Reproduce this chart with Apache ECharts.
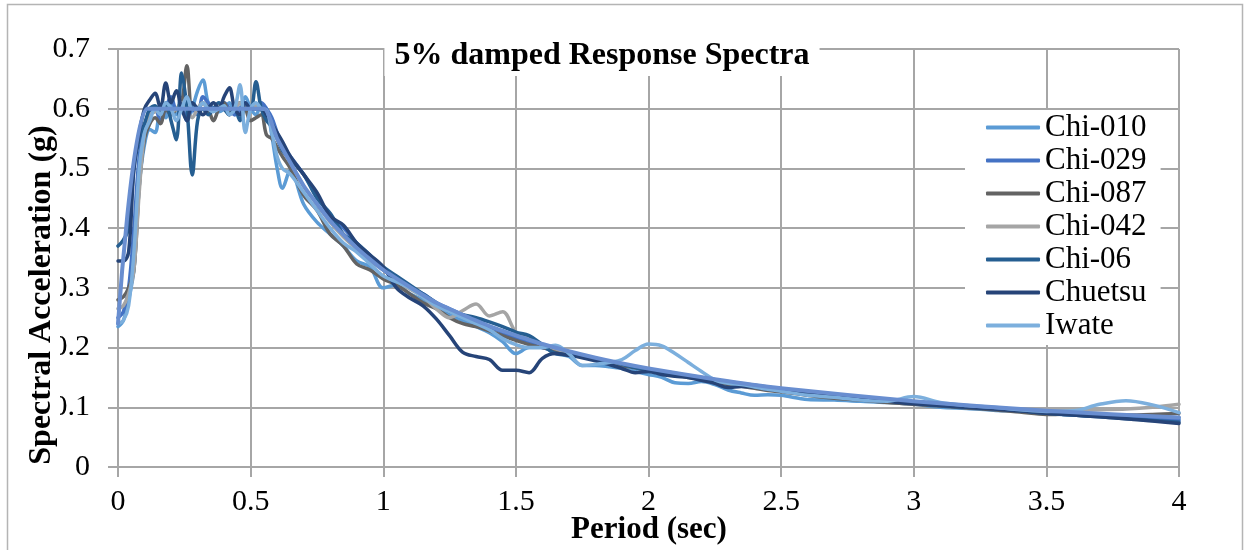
<!DOCTYPE html>
<html>
<head>
<meta charset="utf-8">
<title>5% damped Response Spectra</title>
<script src="https://cdn.jsdelivr.net/npm/echarts@6/dist/echarts.min.js"></script>
<style>
  html, body { margin: 0; padding: 0; background: #fff; }
  #chart { width: 1250px; height: 550px; }
</style>
</head>
<body>
<div id="chart"></div>
<script>
// Periods (sec) shared by all ground-motion records
const periods = [
  0, 0.02, 0.04, 0.06, 0.08, 0.10, 0.12, 0.14, 0.16, 0.18, 0.20, 0.22, 0.24, 0.26, 0.28, 0.30,
  0.32, 0.34, 0.36, 0.38, 0.40, 0.42, 0.44, 0.46, 0.48, 0.50, 0.52, 0.54, 0.56, 0.58, 0.60, 0.62,
  0.65, 0.70, 0.75, 0.80, 0.85, 0.90, 0.95, 1.00, 1.05, 1.10, 1.15, 1.20, 1.25, 1.30, 1.35, 1.40,
  1.45, 1.50, 1.55, 1.60, 1.65, 1.70, 1.75, 1.80, 1.85, 1.90, 1.95, 2.00, 2.05, 2.10, 2.15, 2.20,
  2.25, 2.30, 2.35, 2.40, 2.45, 2.50,
  2.6, 2.7, 2.8, 2.9, 3.0, 3.1, 3.2, 3.3, 3.4, 3.5, 3.6, 3.7, 3.8, 3.9, 4.0
];

// Spectral acceleration (g) of each record
const chi010 = [
  0.235, 0.245, 0.28, 0.33, 0.47, 0.54, 0.565, 0.56, 0.60, 0.585, 0.61, 0.59, 0.60, 0.58, 0.60, 0.63,
  0.648, 0.61, 0.60, 0.595, 0.60, 0.61, 0.59, 0.60, 0.62, 0.60, 0.59, 0.605, 0.60, 0.555, 0.50, 0.467,
  0.497, 0.44, 0.41, 0.39, 0.37, 0.345, 0.335, 0.30, 0.305, 0.29, 0.28, 0.27, 0.255, 0.245, 0.235, 0.225,
  0.21, 0.19, 0.20, 0.20, 0.19, 0.185, 0.17, 0.17, 0.168, 0.165, 0.16, 0.155, 0.15, 0.141, 0.14, 0.143,
  0.138, 0.129, 0.124, 0.12, 0.121, 0.12,
  0.113, 0.112, 0.11, 0.108, 0.105, 0.10, 0.098, 0.095, 0.093, 0.09, 0.087, 0.085, 0.084, 0.083, 0.08
];
const chi029 = [
  0.25, 0.26, 0.30, 0.40, 0.52, 0.57, 0.59, 0.60, 0.58, 0.60, 0.62, 0.60, 0.60, 0.58, 0.60, 0.59,
  0.62, 0.61, 0.60, 0.60, 0.61, 0.60, 0.59, 0.60, 0.61, 0.60, 0.60, 0.61, 0.60, 0.585, 0.56, 0.535,
  0.52, 0.49, 0.455, 0.42, 0.40, 0.375, 0.35, 0.33, 0.315, 0.30, 0.29, 0.275, 0.265, 0.255, 0.245, 0.235,
  0.225, 0.215, 0.21, 0.20, 0.195, 0.19, 0.185, 0.18, 0.175, 0.172, 0.168, 0.163, 0.158, 0.155, 0.151, 0.148,
  0.145, 0.142, 0.139, 0.136, 0.133, 0.13,
  0.125, 0.12, 0.116, 0.112, 0.108, 0.104, 0.101, 0.098, 0.095, 0.092, 0.089, 0.087, 0.084, 0.081, 0.078
];
const chi087 = [
  0.28, 0.285, 0.30, 0.33, 0.47, 0.55, 0.575, 0.585, 0.575, 0.60, 0.59, 0.60, 0.61, 0.672, 0.60, 0.60,
  0.61, 0.60, 0.58, 0.60, 0.61, 0.59, 0.605, 0.61, 0.60, 0.58, 0.585, 0.59, 0.556, 0.55, 0.535, 0.52,
  0.50, 0.455, 0.43, 0.39, 0.37, 0.34, 0.33, 0.315, 0.305, 0.29, 0.275, 0.265, 0.25, 0.24, 0.235, 0.228,
  0.22, 0.212, 0.205, 0.20, 0.195, 0.19, 0.185, 0.18, 0.176, 0.17, 0.166, 0.162, 0.158, 0.155, 0.15, 0.147,
  0.144, 0.138, 0.135, 0.132, 0.128, 0.126,
  0.12, 0.115, 0.112, 0.108, 0.105, 0.102, 0.099, 0.096, 0.092, 0.088, 0.089, 0.088, 0.087, 0.088, 0.09
];
const chi042 = [
  0.265, 0.27, 0.29, 0.33, 0.46, 0.56, 0.59, 0.595, 0.60, 0.605, 0.595, 0.60, 0.61, 0.60, 0.585, 0.60,
  0.61, 0.60, 0.60, 0.605, 0.60, 0.60, 0.60, 0.61, 0.60, 0.60, 0.605, 0.60, 0.59, 0.57, 0.55, 0.53,
  0.51, 0.47, 0.44, 0.41, 0.385, 0.365, 0.345, 0.33, 0.312, 0.298, 0.285, 0.265, 0.25, 0.262, 0.273, 0.253,
  0.26, 0.226, 0.215, 0.205, 0.198, 0.192, 0.187, 0.182, 0.177, 0.172, 0.168, 0.164, 0.16, 0.157, 0.153, 0.15,
  0.146, 0.143, 0.14, 0.137, 0.134, 0.131,
  0.126, 0.121, 0.116, 0.112, 0.108, 0.104, 0.101, 0.098, 0.096, 0.095, 0.095, 0.096, 0.097, 0.10, 0.105
];
const chi06 = [
  0.37, 0.38, 0.40, 0.50, 0.55, 0.575, 0.60, 0.605, 0.59, 0.61, 0.58, 0.548, 0.66, 0.60, 0.489, 0.58,
  0.60, 0.59, 0.60, 0.61, 0.60, 0.59, 0.60, 0.58, 0.60, 0.60, 0.645, 0.60, 0.58, 0.57, 0.55, 0.53,
  0.515, 0.49, 0.45, 0.425, 0.39, 0.375, 0.355, 0.335, 0.32, 0.305, 0.29, 0.275, 0.26, 0.255, 0.25, 0.243,
  0.235, 0.226, 0.22, 0.205, 0.19, 0.188, 0.185, 0.18, 0.177, 0.172, 0.166, 0.162, 0.158, 0.155, 0.152, 0.148,
  0.145, 0.141, 0.138, 0.137, 0.132, 0.129,
  0.124, 0.119, 0.115, 0.111, 0.107, 0.103, 0.10, 0.098, 0.094, 0.09, 0.087, 0.084, 0.081, 0.078, 0.075
];
const chuetsu = [
  0.345, 0.345, 0.36, 0.50, 0.56, 0.60, 0.615, 0.626, 0.60, 0.643, 0.61, 0.63, 0.60, 0.58, 0.61, 0.60,
  0.59, 0.60, 0.61, 0.60, 0.62, 0.635, 0.60, 0.59, 0.61, 0.60, 0.60, 0.60, 0.59, 0.575, 0.56, 0.545,
  0.52, 0.49, 0.46, 0.42, 0.405, 0.375, 0.355, 0.335, 0.30, 0.283, 0.27, 0.248, 0.22, 0.192, 0.185, 0.18,
  0.162, 0.162, 0.158, 0.182, 0.19, 0.187, 0.183, 0.178, 0.172, 0.165, 0.158, 0.16, 0.155, 0.152, 0.15, 0.145,
  0.14, 0.133, 0.135, 0.134, 0.13, 0.128,
  0.124, 0.119, 0.114, 0.11, 0.106, 0.103, 0.10, 0.097, 0.094, 0.09, 0.087, 0.084, 0.081, 0.077, 0.073
];
const iwate = [
  0.24, 0.245, 0.27, 0.36, 0.50, 0.56, 0.58, 0.60, 0.59, 0.61, 0.60, 0.58, 0.60, 0.62, 0.60, 0.60,
  0.61, 0.60, 0.595, 0.60, 0.605, 0.59, 0.60, 0.64, 0.56, 0.60, 0.61, 0.60, 0.598, 0.56, 0.52, 0.50,
  0.49, 0.46, 0.43, 0.40, 0.375, 0.36, 0.34, 0.32, 0.31, 0.30, 0.285, 0.27, 0.26, 0.25, 0.24, 0.23,
  0.215, 0.205, 0.20, 0.20, 0.204, 0.19, 0.17, 0.172, 0.175, 0.18, 0.195, 0.206, 0.203, 0.19, 0.175, 0.16,
  0.146, 0.14, 0.138, 0.134, 0.13, 0.127,
  0.12, 0.117, 0.112, 0.11, 0.118, 0.108, 0.103, 0.10, 0.096, 0.093, 0.094, 0.105, 0.111, 0.104, 0.091
];

// Design (target) spectrum
const targetPeriods = [0, 0.11, 0.55, 0.6, 0.7, 0.8, 0.9, 1.0, 1.2, 1.4, 1.6, 1.8, 2.0, 2.25, 2.5, 3.0, 3.5, 4.0];
const targetValues  = [0.24, 0.6, 0.6, 0.55, 0.471, 0.412, 0.367, 0.33, 0.275, 0.236, 0.206, 0.183, 0.165, 0.147, 0.132, 0.11, 0.094, 0.083];

const recordNames = ['Chi-010', 'Chi-029', 'Chi-087', 'Chi-042', 'Chi-06', 'Chuetsu', 'Iwate'];
const recordValues = [chi010, chi029, chi087, chi042, chi06, chuetsu, iwate];

// Line colours, one per record, then the target
const recordColors = ['#5B9BD5', '#4472C4', '#636363', '#A5A5A5', '#255E91', '#264478', '#7CAFDD'];
const targetColor = '#698ED0';

const serif = '"Liberation Serif", "Times New Roman", serif';
const gridGray = '#a6a6a6';

const series = recordNames.map((name, k) => ({
  name: name,
  type: 'line',
  data: periods.map((t, i) => [t, recordValues[k][i]]),
  symbol: 'none',
  smooth: 0.35,
  lineStyle: { color: recordColors[k], width: 3.5, cap: 'round', join: 'round' },
  itemStyle: { color: recordColors[k] },
  z: 2 + k
}));
series.push({
  name: 'Target',
  type: 'line',
  data: targetPeriods.map((t, i) => [t, targetValues[i]]),
  symbol: 'none',
  smooth: 0.15,
  lineStyle: { color: targetColor, width: 4, cap: 'round', join: 'round' },
  itemStyle: { color: targetColor },
  z: 20
});

const chart = echarts.init(document.getElementById('chart'), null, { renderer: 'canvas' });
chart.setOption({
  animation: false,
  backgroundColor: '#fff',
  grid: { left: 118, right: 71, top: 49, bottom: 83, containLabel: false },
  xAxis: {
    type: 'value',
    min: 0, max: 4, interval: 0.5,
    axisLine: { show: true, lineStyle: { color: gridGray, width: 2 } },
    axisTick: { show: true, length: 10, lineStyle: { color: gridGray, width: 2 } },
    splitLine: { show: true, lineStyle: { color: gridGray, width: 2 } },
    axisLabel: { margin: 20, color: '#000', fontFamily: serif, fontSize: 30 }
  },
  yAxis: {
    type: 'value',
    min: 0, max: 0.7, interval: 0.1,
    axisLine: { show: true, lineStyle: { color: gridGray, width: 2 } },
    axisTick: { show: true, length: 10, lineStyle: { color: gridGray, width: 2 } },
    splitLine: { show: true, lineStyle: { color: gridGray, width: 2 } },
    axisLabel: { margin: 28, color: '#000', fontFamily: serif, fontSize: 30 }
  },
  legend: {
    data: recordNames,
    orient: 'vertical',
    left: 965,
    top: 110,
    icon: 'roundRect',
    itemWidth: 54,
    itemHeight: 4,
    itemGap: 2,
    padding: [2, 14, 4, 21],
    backgroundColor: '#fff',
    textStyle: { fontFamily: serif, fontSize: 31, color: '#000', lineHeight: 31 }
  },
  graphic: [
    {
      type: 'rect', z: 0, silent: true,
      shape: { x: 7.5, y: 4.5, width: 1235, height: 560 },
      style: { fill: 'none', stroke: '#b4b4b4', lineWidth: 1.5 }
    },
    {
      type: 'text', z: 100, x: 602, y: 56,
      style: {
        text: '5% damped Response Spectra',
        font: 'bold 32px ' + serif, fill: '#000',
        align: 'center', verticalAlign: 'middle',
        backgroundColor: '#fff', padding: [4, 10]
      }
    },
    {
      type: 'text', z: 100, x: 649, y: 530,
      style: {
        text: 'Period (sec)',
        font: 'bold 31px ' + serif, fill: '#000',
        align: 'center', verticalAlign: 'middle'
      }
    },
    {
      type: 'text', z: 100, x: 42, y: 295, rotation: Math.PI / 2,
      style: {
        text: 'Spectral Acceleration (g)',
        font: 'bold 32px ' + serif, fill: '#000',
        align: 'center', verticalAlign: 'middle',
        backgroundColor: '#fff', padding: [2, 0]
      }
    }
  ],
  series: series
});
</script>
</body>
</html>
